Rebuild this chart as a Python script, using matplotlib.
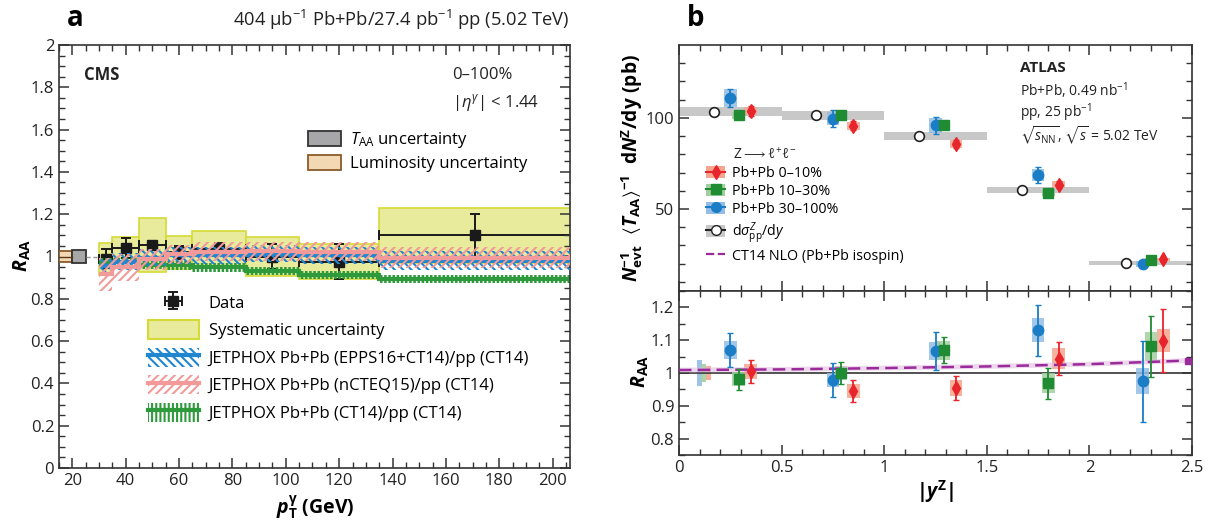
import numpy as np
import matplotlib
matplotlib.use('Agg')
import matplotlib.pyplot as plt
from matplotlib.patches import Patch
from matplotlib.lines import Line2D
from matplotlib.ticker import MultipleLocator, FixedLocator, FuncFormatter

FONT = 'Open Sans'
plt.rcParams['font.family'] = [FONT, 'DejaVu Sans']
plt.rcParams['mathtext.fontset'] = 'custom'
plt.rcParams['mathtext.rm'] = FONT
plt.rcParams['mathtext.it'] = FONT + ':italic'
plt.rcParams['mathtext.bf'] = FONT + ':bold'
plt.rcParams['mathtext.bfit'] = FONT + ':bold:italic'
plt.rcParams['mathtext.sf'] = FONT
plt.rcParams['mathtext.fallback'] = 'stixsans'
plt.rcParams['axes.linewidth'] = 1.2
plt.rcParams['axes.edgecolor'] = '#333333'
plt.rcParams['hatch.linewidth'] = 1.5

# ---------------- Panel a data (CMS) ----------------
pt_edges = [30, 35, 45, 55, 65, 85, 105, 135, 210]
pt_centers = [32.5, 40, 50, 60, 75, 95, 120, 171]
raa = [0.99, 1.041, 1.054, 1.02, 1.035, 1.0, 0.975, 1.10]
raa_stat = [0.045, 0.046, 0.02, 0.03, 0.03, 0.06, 0.082, 0.10]
raa_syst = [0.076, 0.049, 0.126, 0.078, 0.085, 0.09, 0.083, 0.13]
epps_central = [0.954, 0.975, 0.995, 1.006, 1.006, 1.014, 1.006, 0.979]
epps_err = [0.04, 0.04, 0.04, 0.04, 0.04, 0.04, 0.04, 0.045]
ncteq_central = [0.915, 0.948, 0.986, 1.011, 1.022, 1.025, 1.022, 0.995]
ncteq_err = [0.08, 0.063, 0.05, 0.045, 0.045, 0.045, 0.045, 0.05]
ct14_central = [0.972, 0.972, 0.962, 0.958, 0.948, 0.932, 0.912, 0.893]
ct14_err = [0.02, 0.02, 0.02, 0.02, 0.02, 0.02, 0.02, 0.02]
lumi_unc = 0.027
taa_unc = 0.032

# ---------------- Panel b data (ATLAS) ----------------
yz_edges = [0.0, 0.5, 1.0, 1.5, 2.0, 2.5]
pp_x = [0.17, 0.67, 1.17, 1.67, 2.18]
pp_val = [103.3, 101.4, 89.9, 60.6, 20.3]
pp_syst = [2.5, 2.5, 2.3, 1.6, 1.3]

c0_x = [0.35, 0.85, 1.35, 1.85, 2.36]
c0_val = [103.6, 95.6, 85.7, 63.4, 22.3]
c0_stat = [2.8, 2.5, 2.0, 1.8, 1.2]
c0_syst = [2.2, 2.0, 2.0, 1.8, 0.8]
c0_raa = [1.005, 0.945, 0.955, 1.044, 1.099]
c0_raa_stat = [0.035, 0.034, 0.037, 0.049, 0.097]
c0_raa_syst = [0.022, 0.022, 0.025, 0.033, 0.036]

c1_x = [0.29, 0.79, 1.29, 1.80, 2.30]
c1_val = [101.4, 101.4, 95.9, 58.8, 21.9]
c1_stat = [1.5, 2.2, 2.0, 1.5, 1.0]
c1_syst = [2.0, 2.5, 3.0, 1.8, 1.2]
c1_raa = [0.981, 1.0, 1.069, 0.969, 1.081]
c1_raa_stat = [0.032, 0.035, 0.04, 0.047, 0.093]
c1_raa_syst = [0.021, 0.021, 0.029, 0.03, 0.044]

c2_x = [0.25, 0.75, 1.25, 1.75, 2.26]
c2_val = [111.0, 99.6, 95.9, 68.8, 19.8]
c2_stat = [4.8, 4.8, 4.8, 4.4, 1.5]
c2_syst = [5.0, 3.7, 4.0, 3.2, 1.8]
c2_raa = [1.070, 0.979, 1.067, 1.130, 0.975]
c2_raa_stat = [0.051, 0.051, 0.058, 0.077, 0.124]
c2_raa_syst = [0.028, 0.021, 0.028, 0.037, 0.039]

norm_x = [0.098, 0.119, 0.142]
norm_unc = [0.041, 0.026, 0.021]

ct14nlo_x = [0.0, 0.5, 1.0, 1.5, 2.0, 2.48]
ct14nlo_raa = [1.009, 1.011, 1.015, 1.020, 1.027, 1.038]

# ---------------- Colours ----------------
YEL_FACE = '#e8ea9c'
YEL_EDGE = '#d4da36'
BLUE_T = '#1f86cf'
PINK_T = '#f29a9a'
GREEN_T = '#2e9a3c'
RED = '#e8242c'
RED_BOX = '#f6a58e'
GRN = '#1f8b32'
GRN_BOX = '#a4cfa0'
BLU = '#1a7dc6'
BLU_BOX = '#93bde6'
GRAY_BAR = '#c8c8c8'
PURPLE = '#9b2b9b'

W, H = 1214, 528
fig = plt.figure(figsize=(W / 100, H / 100), dpi=100)


def px_axes(l, t, r, b):
    return fig.add_axes([l / W, 1 - b / H, (r - l) / W, (b - t) / H])


axA = px_axes(59, 45, 570, 468)
axB1 = px_axes(679, 45, 1192, 291)
axB2 = px_axes(679, 291, 1192, 455)

fmt_g = FuncFormatter(lambda v, p: '%g' % round(v, 3))
for ax in (axA, axB1, axB2):
    ax.tick_params(which='both', direction='in', top=True, right=True,
                   labelsize=12, colors='#333333', labelcolor='#222222')
    ax.tick_params(which='major', length=7, width=1.1)
    ax.tick_params(which='minor', length=4, width=1.0)

# ================= Panel a =================
edges = np.array(pt_edges, dtype=float)
left = edges[:-1]
widths = np.diff(edges)
raa_a = np.array(raa)
syst_a = np.array(raa_syst)

axA.bar(left, 2 * syst_a, width=widths, bottom=raa_a - syst_a, align='edge',
        facecolor=YEL_FACE, edgecolor=YEL_EDGE, linewidth=1.2, zorder=1)


def band(ax, central, err, color, hatch, hlw, zorder):
    c = np.array(central)
    e = np.array(err)
    with plt.rc_context({'hatch.linewidth': hlw, 'hatch.color': color}):
        bars = ax.bar(left, 2 * e, width=widths, bottom=c - e, align='edge',
                      facecolor='none', edgecolor=color, linewidth=0,
                      hatch=hatch, zorder=zorder)
        for b in bars:
            try:
                b.set_hatch_linewidth(hlw)
            except Exception:
                pass
    ax.stairs(c, edges, baseline=None, color=color, linewidth=3.0, zorder=zorder + 0.1)


xerr_lo = np.array(pt_centers) - left
xerr_hi = edges[1:] - np.array(pt_centers)
data_eb = axA.errorbar(pt_centers, raa, yerr=raa_stat, xerr=[xerr_lo, xerr_hi],
                       fmt='s', color='#1a1a1a', ms=7.5, capsize=3.5,
                       elinewidth=1.4, capthick=1.4, zorder=1.5)

band(axA, ct14_central, ct14_err, GREEN_T, '||||', 1.8, 2)
band(axA, epps_central, epps_err, BLUE_T, '\\\\\\\\', 1.5, 3)
band(axA, ncteq_central, ncteq_err, PINK_T, '////', 1.5, 4)

# normalisation boxes near R=1
axA.bar([15], [2 * lumi_unc], width=5, bottom=1 - lumi_unc, align='edge',
        facecolor='#f3d8b4', edgecolor='#8a5a2b', linewidth=1.3, zorder=5)
axA.plot([15, 20], [1, 1], color='#5a3a1a', lw=1.0, zorder=5.5)
axA.bar([20], [2 * taa_unc], width=5, bottom=1 - taa_unc, align='edge',
        facecolor='#a7a7aa', edgecolor='#333333', linewidth=1.3, zorder=5)
axA.plot([25, 30], [1, 1], color='#999999', lw=1.0, ls=(0, (3, 2)), zorder=5)

axA.set_xlim(15, 206.5)
axA.set_ylim(0, 2)
axA.xaxis.set_major_locator(FixedLocator(list(range(20, 201, 20))))
axA.xaxis.set_minor_locator(MultipleLocator(5))
axA.yaxis.set_major_locator(MultipleLocator(0.2))
axA.yaxis.set_minor_locator(MultipleLocator(0.05))
axA.yaxis.set_major_formatter(fmt_g)

axA.text(0.048, 0.93, 'CMS', transform=axA.transAxes, fontsize=12,
         fontweight='bold', va='center', ha='left', color='#222222')
axA.text(0.77, 0.93, '0\u2013100%', transform=axA.transAxes, fontsize=12,
         va='center', ha='left', color='#222222')
axA.text(0.77, 0.864, r'$|\eta^{\gamma}|$ < 1.44', transform=axA.transAxes,
         fontsize=12, va='center', ha='left', color='#222222')

leg1 = axA.legend(
    [Patch(facecolor='#a7a7aa', edgecolor='#333333', linewidth=1.3),
     Patch(facecolor='#f3d8b4', edgecolor='#8a5a2b', linewidth=1.3)],
    [r'$T_{\mathrm{AA}}$ uncertainty', 'Luminosity uncertainty'],
    loc='upper left', bbox_to_anchor=(308 / W, 1 - 130 / H),
    bbox_transform=fig.transFigure, frameon=False, fontsize=12,
    handlelength=2.0, handleheight=1.0, handletextpad=0.5,
    labelspacing=0.3, borderpad=0, borderaxespad=0)
axA.add_artist(leg1)

band_handles = [
    (Patch(facecolor='none', edgecolor=c, linewidth=0, hatch=h), Line2D([], [], color=c, lw=3.0))
    for c, h in ((BLUE_T, '\\\\\\\\'), (PINK_T, '////'), (GREEN_T, '||||'))
]
leg2 = axA.legend(
    [data_eb, Patch(facecolor=YEL_FACE, edgecolor=YEL_EDGE, linewidth=1.5)] + band_handles,
    ['Data', 'Systematic uncertainty',
     'JETPHOX Pb+Pb (EPPS16+CT14)/pp (CT14)',
     'JETPHOX Pb+Pb (nCTEQ15)/pp (CT14)',
     'JETPHOX Pb+Pb (CT14)/pp (CT14)'],
    loc='upper left', bbox_to_anchor=(148 / W, 1 - 293 / H),
    bbox_transform=fig.transFigure, frameon=False, fontsize=12,
    handlelength=3.05, handleheight=1.38, handletextpad=0.6,
    labelspacing=0.5, borderpad=0, borderaxespad=0)

fig.text(67 / W, 1 - 18 / H, 'a', fontsize=20, fontweight='bold', ha='left', va='center')
fig.text(570 / W, 1 - 20 / H, r'404 $\mathrm{\mu b^{-1}}$ Pb+Pb/27.4 pb$^{-1}$ pp (5.02 TeV)',
         fontsize=13.2, ha='right', va='center', color='#222222')
fig.text(22 / W, 1 - 256 / H, r'$\mathbfit{R}_{\mathbf{AA}}$', fontsize=14,
         rotation=90, ha='center', va='center')
fig.text(315 / W, 1 - 508 / H, r'$\mathbfit{p}_{\mathbf{T}}^{\mathbf{\gamma}}$ (GeV)',
         fontsize=14, fontweight='bold', ha='center', va='center')

# ================= Panel b (top) =================
yedges = np.array(yz_edges)
yleft = yedges[:-1]
ywid = np.diff(yedges)
pp_v = np.array(pp_val)
pp_s = np.array(pp_syst)
axB1.bar(yleft, 2 * pp_s, width=ywid, bottom=pp_v - pp_s, align='edge',
         color=GRAY_BAR, linewidth=0, zorder=1)
axB1.plot(pp_x, pp_val, 'o', mfc='white', mec='#222222', mew=1.2, ms=7, zorder=5)

BOXW = 0.062
series = [
    (c2_x, c2_val, c2_stat, c2_syst, c2_raa, c2_raa_stat, c2_raa_syst, BLU, BLU_BOX, 'o', 7.5),
    (c1_x, c1_val, c1_stat, c1_syst, c1_raa, c1_raa_stat, c1_raa_syst, GRN, GRN_BOX, 's', 7),
    (c0_x, c0_val, c0_stat, c0_syst, c0_raa, c0_raa_stat, c0_raa_syst, RED, RED_BOX, 'd', 7),
]
for x, v, st, sy, r, rst, rsy, col, boxc, mk, ms in series:
    x = np.array(x)
    v = np.array(v)
    sy = np.array(sy)
    axB1.bar(x, 2 * sy, width=BOXW, bottom=v - sy, align='center',
             color=boxc, alpha=0.85, linewidth=0, zorder=2)
    axB1.errorbar(x, v, yerr=st, fmt=mk, color=col, ms=ms, capsize=2,
                  elinewidth=1.3, capthick=1.0, zorder=4)
    r = np.array(r)
    rsy = np.array(rsy)
    axB2.bar(x, 2 * rsy, width=BOXW, bottom=r - rsy, align='center',
             color=boxc, alpha=0.85, linewidth=0, zorder=2)
    axB2.errorbar(x, r, yerr=rst, fmt=mk, color=col, ms=ms, capsize=2,
                  elinewidth=1.3, capthick=1.0, zorder=4)

axB1.set_xlim(0, 2.5)
axB1.set_ylim(5, 140)
axB1.xaxis.set_major_locator(MultipleLocator(0.5))
axB1.xaxis.set_minor_locator(MultipleLocator(0.1))
axB1.yaxis.set_major_locator(FixedLocator([50, 100]))
axB1.yaxis.set_minor_locator(FixedLocator([10, 20, 30, 40, 60, 70, 80, 90, 110, 120, 130]))
axB1.tick_params(labelbottom=False)

axB1.text(0.664, 0.905, 'ATLAS', transform=axB1.transAxes, fontsize=11,
          fontweight='bold', ha='left', va='center', color='#222222')
axB1.text(0.664, 0.815, r'Pb+Pb, 0.49 nb$^{-1}$', transform=axB1.transAxes, fontsize=10,
          ha='left', va='center', color='#222222')
axB1.text(0.664, 0.725, r'pp, 25 pb$^{-1}$', transform=axB1.transAxes, fontsize=10,
          ha='left', va='center', color='#222222')
axB1.text(0.664, 0.632, r'$\sqrt{s_{\mathrm{NN}}}$, $\sqrt{s}$ = 5.02 TeV',
          transform=axB1.transAxes, fontsize=10, ha='left', va='center', color='#222222')

fig.text(733 / W, 1 - 155 / H, r'Z$\longrightarrow\ell^{+}\ell^{-}$', fontsize=10,
         ha='left', va='center', color='#222222')
legB = axB1.legend(
    [(Patch(facecolor=RED_BOX, linewidth=0), Line2D([], [], color=RED, marker='d', ms=7)),
     (Patch(facecolor=GRN_BOX, linewidth=0), Line2D([], [], color=GRN, marker='s', ms=6.5)),
     (Patch(facecolor=BLU_BOX, linewidth=0), Line2D([], [], color=BLU, marker='o', ms=7)),
     (Patch(facecolor=GRAY_BAR, linewidth=0), Line2D([], [], color='#222222', marker='o', mfc='white', ms=7)),
     Line2D([], [], color=PURPLE, ls='--', lw=1.6)],
    ['Pb+Pb 0\u201310%', 'Pb+Pb 10\u201330%', 'Pb+Pb 30\u2013100%',
     r'd$\sigma^{Z}_{\mathrm{pp}}$/d$y$', 'CT14 NLO (Pb+Pb isospin)'],
    loc='upper left', bbox_to_anchor=(706 / W, 1 - 166 / H),
    bbox_transform=fig.transFigure, frameon=False, fontsize=10.3,
    handlelength=1.35, handleheight=0.95, handletextpad=0.5,
    labelspacing=0.2, borderpad=0, borderaxespad=0)

# ================= Panel b (bottom) =================
for nx, nu, nc in zip(norm_x, norm_unc, [BLU_BOX, GRN_BOX, RED_BOX]):
    axB2.bar([nx], [2 * nu], width=0.025, bottom=1 - nu, align='center',
             color=nc, alpha=0.9, linewidth=0, zorder=1.5)
axB2.axhline(1.0, color='#333333', lw=1.2, zorder=1.8)
axB2.plot(ct14nlo_x, ct14nlo_raa, color='#e2bde2', lw=3.5, alpha=0.6, zorder=2.5,
          solid_capstyle='butt')
axB2.plot(ct14nlo_x, ct14nlo_raa, color=PURPLE, lw=1.8, ls=(0, (5, 2.5)), zorder=2.6,
          marker='s', ms=5, markevery=[len(ct14nlo_x) - 1])

axB2.set_xlim(0, 2.5)
axB2.set_ylim(0.75, 1.25)
axB2.xaxis.set_major_locator(MultipleLocator(0.5))
axB2.xaxis.set_minor_locator(MultipleLocator(0.1))
axB2.xaxis.set_major_formatter(fmt_g)
axB2.yaxis.set_major_locator(FixedLocator([0.8, 0.9, 1.0, 1.1, 1.2]))
axB2.yaxis.set_minor_locator(MultipleLocator(0.05))
axB2.yaxis.set_major_formatter(fmt_g)

fig.text(687 / W, 1 - 18 / H, 'b', fontsize=20, fontweight='bold', ha='left', va='center')
fig.text(632 / W, 1 - 168 / H,
         r'$\mathbfit{N}_{\mathbf{evt}}^{\mathbf{-1}}\ \ \langle\mathbfit{T}_{\mathbf{AA}}\rangle^{\mathbf{-1}}$'
         r'  $\mathbf{d}\mathbfit{N}^{\mathbf{Z}}\mathbf{/dy\ (pb)}$',
         fontsize=13.8, rotation=90, ha='center', va='center')
fig.text(640 / W, 1 - 372 / H, r'$\mathbfit{R}_{\mathbf{AA}}$', fontsize=14,
         rotation=90, ha='center', va='center')
fig.text(935 / W, 1 - 492 / H, r'$\mathbf{|}\mathbfit{y}^{\mathbf{Z}}\mathbf{|}$',
         fontsize=14, ha='center', va='center')

fig.savefig('out.png', dpi=100)
